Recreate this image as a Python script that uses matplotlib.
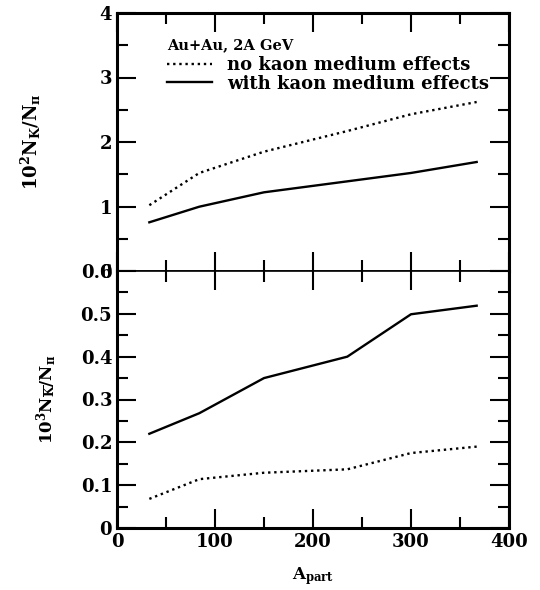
import matplotlib
matplotlib.use("Agg")
import matplotlib.pyplot as plt
from matplotlib.ticker import MultipleLocator

A_part = [33, 84, 150, 235, 300, 367]
kplus_no_medium = [1.02, 1.52, 1.85, 2.17, 2.43, 2.62]
kplus_medium = [0.755, 0.997, 1.22, 1.39, 1.52, 1.69]
kminus_no_medium = [0.068, 0.114, 0.129, 0.137, 0.175, 0.19]
kminus_medium = [0.220, 0.268, 0.350, 0.400, 0.499, 0.519]

plt.rcParams['font.family'] = ['DejaVu Serif']
plt.rcParams['font.weight'] = 'bold'
plt.rcParams['mathtext.fontset'] = 'dejavuserif'

fig = plt.figure(figsize=(5.4, 5.9), dpi=100)
left, width = 117/540, 392/540
ax1 = fig.add_axes([left, 1-271/590, width, 258/590])
ax2 = fig.add_axes([left, 1-528/590, width, 257/590])

dot = (0, (1, 1.6))
ax1.plot(A_part, kplus_no_medium, color='black', lw=1.7, linestyle=dot,
         label='no kaon medium effects')
ax1.plot(A_part, kplus_medium, color='black', lw=1.7,
         label='with kaon medium effects')
ax2.plot(A_part, kminus_no_medium, color='black', lw=1.7, linestyle=dot)
ax2.plot(A_part, kminus_medium, color='black', lw=1.7)

for ax in (ax1, ax2):
    ax.set_xlim(0, 400)
    ax.xaxis.set_major_locator(MultipleLocator(100))
    ax.xaxis.set_minor_locator(MultipleLocator(50))
    ax.tick_params(which='both', direction='in', top=True, right=True,
                   labelsize=13, width=1.5)
    ax.tick_params(which='major', length=14)
    ax.tick_params(which='minor', length=8)
    for s in ax.spines.values():
        s.set_linewidth(2.2)

ax1.spines['bottom'].set_linewidth(1.2)
ax2.spines['top'].set_linewidth(1.2)

ax1.set_ylim(0, 4)
ax1.yaxis.set_minor_locator(MultipleLocator(0.5))
ax1.set_yticks([0, 1, 2, 3, 4])
ax1.set_yticklabels(['0', '1', '2', '3', '4'], fontweight='bold')
ax1.tick_params(axis='x', labelbottom=False)

ax2.set_ylim(0, 0.6)
ax2.yaxis.set_minor_locator(MultipleLocator(0.05))
ax2.set_yticks([0, 0.1, 0.2, 0.3, 0.4, 0.5, 0.6])
ax2.set_yticklabels(['0', '0.1', '0.2', '0.3', '0.4', '0.5', '0.6'], fontweight='bold')
ax2.set_xticks([0, 100, 200, 300, 400])
ax2.set_xticklabels(['0', '100', '200', '300', '400'], fontweight='bold')

ax1.set_ylabel(r'$\mathbf{10^2N_K/N_\pi}$', fontsize=13)
ax1.yaxis.set_label_coords(-0.19, 0.5)
ax2.set_ylabel(r'$\mathbf{10^3N_{\overline{K}}/N_\pi}$', fontsize=12)
ax2.yaxis.set_label_coords(-0.147, 0.5)
ax2.set_xlabel(r'$\mathbf{A_{part}}$', fontsize=12, labelpad=10)

ax1.text(0.128, 0.876, 'Au+Au, 2A GeV', transform=ax1.transAxes,
         fontsize=10.5, fontweight='bold', ha='left', va='center')
leg = ax1.legend(loc='upper left', bbox_to_anchor=(0.128, 0.833), frameon=False,
                 prop={'weight': 'bold', 'size': 13},
                 handlelength=2.5, handletextpad=0.8, labelspacing=0.03,
                 borderpad=0, borderaxespad=0)

fig.savefig('out.png', dpi=100)
